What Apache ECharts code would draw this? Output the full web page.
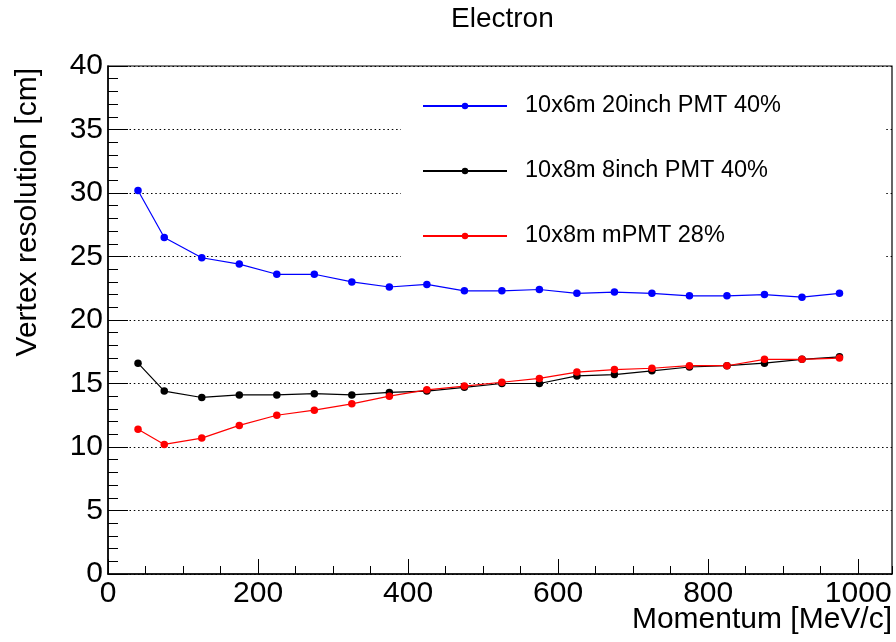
<!DOCTYPE html>
<html>
<head>
<meta charset="utf-8">
<script src="https://cdn.jsdelivr.net/npm/echarts@6/dist/echarts.min.js"></script>
<style>
  html, body { margin: 0; padding: 0; background: #fff; }
  #chart { width: 896px; height: 642px; }
</style>
</head>
<body>
<div id="chart"></div>
<script>
// momentum points [MeV/c]
const momentum = [40, 75, 125, 175, 225, 275, 325, 375, 425, 475, 525, 575, 625, 675, 725, 775, 825, 875, 925, 975]
// vertex resolution [cm], one array per detector setup
const pmt20inch = [30.2, 26.5, 24.9, 24.4, 23.6, 23.6, 23.0, 22.6, 22.8, 22.3, 22.3, 22.4, 22.1, 22.2, 22.1, 21.9, 21.9, 22.0, 21.8, 22.1]
const pmt8inch = [16.6, 14.4, 13.9, 14.1, 14.1, 14.2, 14.1, 14.3, 14.4, 14.7, 15.0, 15.0, 15.6, 15.7, 16.0, 16.3, 16.4, 16.6, 16.9, 17.1]
const mpmt = [11.4, 10.2, 10.7, 11.7, 12.5, 12.9, 13.4, 14.0, 14.5, 14.8, 15.1, 15.4, 15.9, 16.1, 16.2, 16.4, 16.4, 16.9, 16.9, 17.0]
const seriesNames = ['10x6m 20inch PMT 40%', '10x8m 8inch PMT 40%', '10x8m mPMT 28%']
const seriesColors = ['#0000ff', '#000000', '#ff0000']

const font = 'Liberation Sans, Arial, Helvetica, sans-serif'

function pairs(ys) {
  return momentum.map((x, i) => [x, ys[i]])
}

const chart = echarts.init(document.getElementById('chart'), null, { renderer: 'canvas' })

const seriesArr = [pmt20inch, pmt8inch, mpmt].map((ys, i) => ({
  name: seriesNames[i],
  type: 'line',
  data: pairs(ys),
  symbol: 'circle',
  symbolSize: 7.5,
  color: seriesColors[i],
  lineStyle: { color: seriesColors[i], width: 1.2 },
  itemStyle: { color: seriesColors[i] },
  animation: false
}))

const option = {
  animation: false,
  backgroundColor: '#fff',
  title: {
    text: 'Electron',
    left: 451,
    top: 5,
    padding: 0,
    textStyle: { fontFamily: font, fontSize: 28, fontWeight: 'normal', color: '#000' }
  },
  grid: {
    left: 108, right: 4, top: 66, bottom: 68,
    show: true,
    borderColor: '#000',
    borderWidth: 1.2,
    backgroundColor: 'transparent'
  },
  legend: {
    orient: 'vertical',
    left: 422,
    top: 94,
    padding: 0,
    itemWidth: 84,
    itemHeight: 8,
    itemGap: 41,
    data: seriesNames,
    textStyle: { fontFamily: font, fontSize: 23.5, color: '#000', padding: [0, 0, 0, 13], lineHeight: 24 }
  },
  xAxis: [
    {
      // major ticks + labels
      type: 'value',
      min: 0, max: 1045, interval: 200,
      position: 'bottom',
      axisLine: { show: true, onZero: false, lineStyle: { color: '#000', width: 1.5 } },
      axisTick: { show: true, inside: true, length: 15, lineStyle: { color: '#000', width: 1 } },
      axisLabel: {
        showMaxLabel: false, margin: 5, fontFamily: font, fontSize: 30, color: '#000',
        formatter: v => String(v)
      },
      splitLine: { show: false }
    },
    {
      // minor ticks every 50
      type: 'value',
      min: 0, max: 1045, interval: 50,
      position: 'bottom',
      axisLine: { show: false, onZero: false },
      axisTick: { show: true, inside: true, length: 8, lineStyle: { color: '#000', width: 1 } },
      axisLabel: { show: false },
      splitLine: { show: false }
    }
  ],
  yAxis: {
    type: 'value',
    min: 0, max: 40, interval: 5,
    axisLine: { show: true, lineStyle: { color: '#000', width: 1.5 } },
    axisTick: { show: true, inside: true, length: 20, lineStyle: { color: '#000', width: 1 } },
    minorTick: { show: true, splitNumber: 5, length: 10, lineStyle: { color: '#000', width: 1 } },
    axisLabel: { margin: 5, fontFamily: font, fontSize: 30, color: '#000' },
    splitLine: { show: true, lineStyle: { color: '#000', width: 1.2, type: [1.5, 2.8] } }
  },
  graphic: [
    {
      // white legend box hiding the grid lines behind it
      type: 'rect',
      z: 1,
      shape: { x: 401, y: 70, width: 485, height: 205 },
      style: { fill: '#fff' }
    },
    {
      type: 'text',
      z: 5,
      x: 892,
      y: 620,
      style: { text: 'Momentum [MeV/c]', fill: '#000', font: '30px ' + font, textAlign: 'right', textVerticalAlign: 'middle' }
    },
    {
      type: 'text',
      z: 5,
      x: 28,
      y: 68,
      rotation: Math.PI / 2,
      style: { text: 'Vertex resolution [cm]', fill: '#000', font: '30px ' + font, textAlign: 'right', textVerticalAlign: 'middle' }
    }
  ],
  series: seriesArr
}

chart.setOption(option)
</script>
</body>
</html>
